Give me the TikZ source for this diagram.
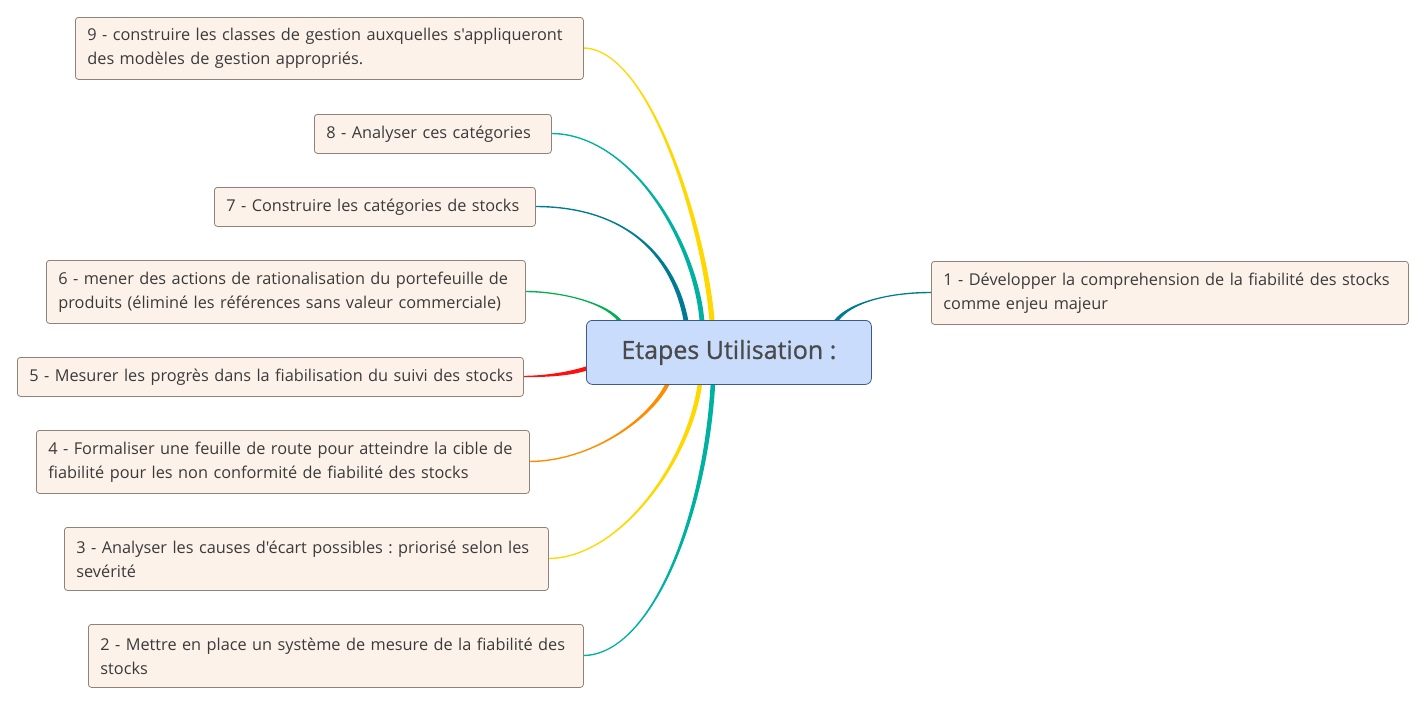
\documentclass[tikz,border=0pt]{standalone}
\usepackage{fontspec}
\setmainfont{Open Sans}[Ligatures=TeXOff]
\newfontfamily\cfont{Open Sans}[FakeBold=0.9]
\usetikzlibrary{calc}
\definecolor{boxfill}{HTML}{FDF2EA}
\definecolor{boxline}{HTML}{8E8279}
\definecolor{cfill}{HTML}{C9DCFB}
\definecolor{cline}{HTML}{3C5A8C}
\definecolor{txt}{HTML}{3A3A3A}
\definecolor{ctxt}{HTML}{4A4A4A}
\definecolor{cyellow}{HTML}{FFD800}
\definecolor{cteal}{HTML}{00B0A0}
\definecolor{cdteal}{HTML}{007B94}
\definecolor{cgreen}{HTML}{00B050}
\definecolor{cred}{HTML}{FF1010}
\definecolor{corange}{HTML}{FF8C00}
% #1 colour, #2 start, #3 start half-width vector, #4 c1, #5 c2, #6 end, #7 end half-width vector
\newcommand\branch[7]{%
  \fill[#1] ($(#2)+(#3)$) .. controls ($(#4)+(#3)$) and ($(#5)+(#7)$) .. ($(#6)+(#7)$)
    -- ($(#6)-(#7)$) .. controls ($(#5)-(#7)$) and ($(#4)-(#3)$) .. ($(#2)-(#3)$) -- cycle;}
\begin{document}
\frenchspacing
\begin{tikzpicture}[x=1pt,y=-1pt,
  box/.style={draw=boxline, fill=boxfill, rounded corners=3pt, inner xsep=12pt, inner ysep=0pt,
    align=left, anchor=north west, text=txt, line width=0.8pt,
    font=\fontsize{16.3}{24}\selectfont},
  center/.style={draw=cline, fill=cfill, rounded corners=6pt, line width=0.8pt, text=ctxt,
    minimum width=285pt, minimum height=64pt, anchor=north west,
    font=\cfont\fontsize{25}{30}\selectfont}]
\useasboundingbox (0,0) rectangle (1425,704);
% branches first (under nodes)
\coordinate (s9) at (712,321);
\coordinate (s8) at (702,321);
\coordinate (s7) at (686,321);
\coordinate (s6) at (620,321);
\coordinate (s5) at (588,368);
\coordinate (s4) at (668,383);
\coordinate (s3) at (700,383);
\coordinate (s2) at (713,383);
\coordinate (s1) at (836,321);
\coordinate (e9) at (583,48);
\coordinate (e8) at (551,133.5);
\coordinate (e7) at (535,206.5);
\coordinate (e6) at (525,291.5);
\coordinate (e5) at (523,376.5);
\coordinate (e4) at (529,461.5);
\coordinate (e3) at (548,558.5);
\coordinate (e2) at (583,655.5);
\coordinate (e1) at (931,292.5);
\branch{cyellow}{s9}{2.6,0}{705,230}{650,48}{e9}{0,-0.7}
\branch{cteal}{s8}{2.4,0}{695,240}{630,133.5}{e8}{0,-0.7}
\branch{cdteal}{s7}{2.4,0}{675,260}{630,206.5}{e7}{0,-0.7}
\branch{cgreen}{s6}{2.2,0}{605,302}{560,291.5}{e6}{0,-0.7}
\branch{cred}{s5}{0,2.2}{570,374}{545,376.5}{e5}{0,0.7}
\branch{corange}{s4}{2.3,0}{650,420}{590,461.5}{e4}{0,0.7}
\branch{cyellow}{s3}{2.3,0}{690,460}{620,558.5}{e3}{0,0.7}
\branch{cteal}{s2}{2.3,0}{705,520}{650,655.5}{e2}{0,0.7}
\branch{cdteal}{s1}{2.4,0}{850,302}{890,292.5}{e1}{0,0.7}
% nodes
\node[center] (c) at (586,320) {Etapes Utilisation :};
\node[box, minimum width=508pt, minimum height=62pt, text width=484pt] (n9) at (75,17)
  {9 - construire les classes de gestion auxquelles s'appliqueront\\des modèles de gestion appropriés.};
\node[box, minimum width=237pt, minimum height=39pt, text width=213pt] (n8) at (314,114)
  {8 - Analyser ces catégories};
\node[box, minimum width=321pt, minimum height=39pt, text width=297pt] (n7) at (214,187)
  {7 - Construire les catégories de stocks};
\node[box, minimum width=479pt, minimum height=63pt, text width=455pt] (n6) at (46,260)
  {6 - mener des actions de rationalisation du portefeuille de\\produits (éliminé les références sans valeur commerciale)};
\node[box, minimum width=506pt, minimum height=39pt, text width=482pt] (n5) at (17,357)
  {\mbox{5 - Mesurer les progrès dans la fiabilisation du suivi des stocks}};
\node[box, minimum width=493pt, minimum height=63pt, text width=469pt] (n4) at (36,430)
  {4 - Formaliser une feuille de route pour atteindre la cible de\\fiabilité pour les non conformité de fiabilité des stocks};
\node[box, minimum width=484pt, minimum height=63pt, text width=460pt] (n3) at (64,527)
  {3 - Analyser les causes d'écart possibles : priorisé selon les\\sevérité};
\node[box, minimum width=495pt, minimum height=63pt, text width=471pt] (n2) at (88,624)
  {2 - Mettre en place un système de mesure de la fiabilité des\\stocks};
\node[box, minimum width=477pt, minimum height=63pt, text width=453pt] (n1) at (931,261)
  {1 - Développer la comprehension de la fiabilité des stocks\\comme enjeu majeur};
\end{tikzpicture}
\end{document}
